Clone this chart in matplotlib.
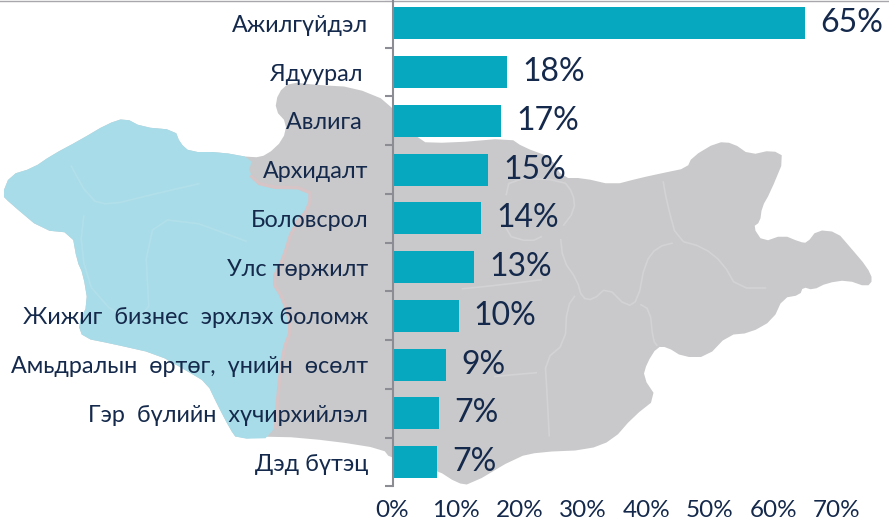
import matplotlib
matplotlib.use('Agg')
import matplotlib.pyplot as plt

# Chart data
categories = ['Ажилгүйдэл', 'Ядуурал ', 'Авлига ', 'Архидалт', 'Боловсрол', 'Улс төржилт',
              'Жижиг  бизнес  эрхлэх боломж', 'Амьдралын  өртөг,  үнийн  өсөлт',
              'Гэр  бүлийн  хүчирхийлэл', 'Дэд бүтэц']
values = [65, 18, 17.1, 15.1, 13.9, 12.9, 10.4, 8.5, 7.3, 7.0]
value_labels = ['65%', '18%', '17%', '15%', '14%', '13%', '10%', '9%', '7%', '7%']
x_ticks = [0, 10, 20, 30, 40, 50, 60, 70]

# Map backdrop outlines, in picture pixels
map_x = [2, 10, 33, 52, 80, 107, 125, 142, 175, 180, 190, 220, 253, 267, 283, 287, 275, 278, 290, 317,
         353, 390, 417, 450, 510, 523, 550, 563, 583, 613, 640, 663, 687, 692, 717, 733, 750, 772, 785,
         770, 762, 760, 753, 763, 783, 800, 807, 817, 837, 850, 867, 873, 867, 847, 827, 813, 803, 800,
         783, 773, 750, 728, 707, 683, 667, 657, 647, 643, 657, 633, 613, 587, 540, 517, 470, 457, 437,
         390, 383, 333, 277, 237, 230, 217, 207, 187, 157, 113, 83, 78, 88, 83, 77, 72, 42, 10]
map_y = [195, 175, 168, 155, 140, 124, 118, 127, 130, 143, 152, 152, 158, 155, 140, 123, 110, 93, 82, 85,
         87, 102, 142, 143, 138, 147, 157, 178, 178, 185, 178, 173, 168, 157, 142, 143, 155, 150, 157,
         193, 207, 222, 227, 242, 235, 242, 243, 230, 232, 247, 267, 280, 287, 280, 283, 290, 287, 295,
         298, 320, 333, 335, 357, 357, 347, 347, 363, 377, 398, 417, 440, 450, 452, 457, 485, 483, 470,
         458, 449, 441, 436, 439, 429, 404, 383, 371, 354, 344, 338, 324, 304, 274, 261, 233, 230, 203]

west_x = [2, 10, 33, 52, 80, 107, 125, 142, 175, 180, 190, 220, 253, 248, 263, 310, 310, 293, 283, 272,
          283, 292, 283, 278, 275, 237, 230, 217, 207, 187, 157, 113, 83, 78, 88, 83, 77, 72, 42, 10]
west_y = [195, 175, 168, 155, 140, 124, 118, 127, 130, 143, 152, 152, 158, 173, 187, 188, 207, 227, 260, 281,
          298, 328, 351, 394, 438, 439, 429, 404, 383, 371, 354, 344, 338, 324, 304, 274, 261, 233, 230, 203]

borders = [
    ([662, 667, 677, 703, 723, 737, 775], [175, 203, 240, 247, 263, 288, 288]),
    ([677, 657, 645, 638, 627, 607, 593, 582, 577, 563, 560], [242, 247, 263, 300, 307, 287, 300, 298, 280, 260, 233]),
    ([638, 650, 653, 658], [303, 310, 340, 347]),
    ([577, 567, 565, 545, 547, 550], [293, 307, 343, 360, 393, 450]),
    ([560, 575, 573, 563, 510, 505], [230, 210, 193, 180, 178, 200]),
    ([545, 510, 490], [372, 375, 377]),
    ([505, 505, 530, 545], [200, 235, 242, 235]),
    ([450, 500, 555], [290, 285, 278]),
]
west_borders = [
    ([65, 90, 110, 150, 215], [155, 200, 205, 195, 180]),
    ([85, 80, 95, 150, 145, 175, 270], [205, 250, 300, 330, 235, 215, 250]),
]


def smooth(xs, ys, closed=True, rounds=1):
    # corner cutting so the traced outlines stop looking like polygons
    pts = list(zip(xs, ys))
    for _ in range(rounds):
        new = []
        n = len(pts)
        for i in range(n if closed else n - 1):
            x0, y0 = pts[i]
            x1, y1 = pts[(i + 1) % n]
            new.append((0.75 * x0 + 0.25 * x1, 0.75 * y0 + 0.25 * y1))
            new.append((0.25 * x0 + 0.75 * x1, 0.25 * y0 + 0.75 * y1))
        pts = new
    return [p[0] for p in pts], [p[1] for p in pts]


plt.rcParams['font.family'] = ['Lato', 'Open Sans', 'DejaVu Sans']

text_color = '#14294b'
axis_color = '#8c8c94'

fig = plt.figure(figsize=(8.89, 5.22), dpi=100)

# Backdrop map
bg = fig.add_axes([0, 0, 1, 1], zorder=0)
bg.set_xlim(0, 889)
bg.set_ylim(522, 0)
bg.axis('off')
bg.fill(*smooth(map_x, map_y), color='#c9c9cb', lw=0)
for bx, by in borders:
    bg.plot(*smooth(bx, by, closed=False), color='#d3d3d5', lw=1.2)
bg.plot(*smooth(west_x[13:25], west_y[13:25], closed=False), color='#d6c4c6', lw=2.5)
bg.fill(*smooth(west_x, west_y), color='#a8dce8', lw=0)
for bx, by in west_borders:
    bg.plot(*smooth(bx, by, closed=False), color='#b2e0ea', lw=1.2)
bg.plot([0, 889], [0.5, 0.5], color='#a8a8ac', lw=1)

# Bars
ax = fig.add_axes([392.5 / 889, 1 - 486.5 / 522, (837 - 392.5) / 889, 487.5 / 522], zorder=1)
ax.patch.set_visible(False)
pos = list(range(len(categories)))
bars = ax.barh(pos, values, height=0.66, color='#06a8c0')
ax.set_xlim(0, 70)
ax.set_ylim(len(categories) - 0.5, -0.5)
ax.bar_label(bars, labels=value_labels, padding=11, fontsize=23, color=text_color)

for side in ['top', 'right', 'bottom']:
    ax.spines[side].set_visible(False)
ax.spines['left'].set_color(axis_color)
ax.spines['left'].set_linewidth(1.5)

ax.set_yticks(pos)
ax.set_yticklabels(categories, fontsize=16.8, color=text_color)
ax.set_yticks([p - 0.5 for p in pos] + [len(categories) - 0.5], minor=True)
ax.tick_params(axis='y', which='major', length=0, pad=17.5)
ax.tick_params(axis='y', which='minor', length=6, width=1.5, color=axis_color)

ax.set_xticks(x_ticks)
ax.set_xticklabels([f'{t}%' for t in x_ticks], fontsize=17.5, color=text_color)
ax.tick_params(axis='x', length=0, pad=10)

fig.savefig('out.png', dpi=100)
